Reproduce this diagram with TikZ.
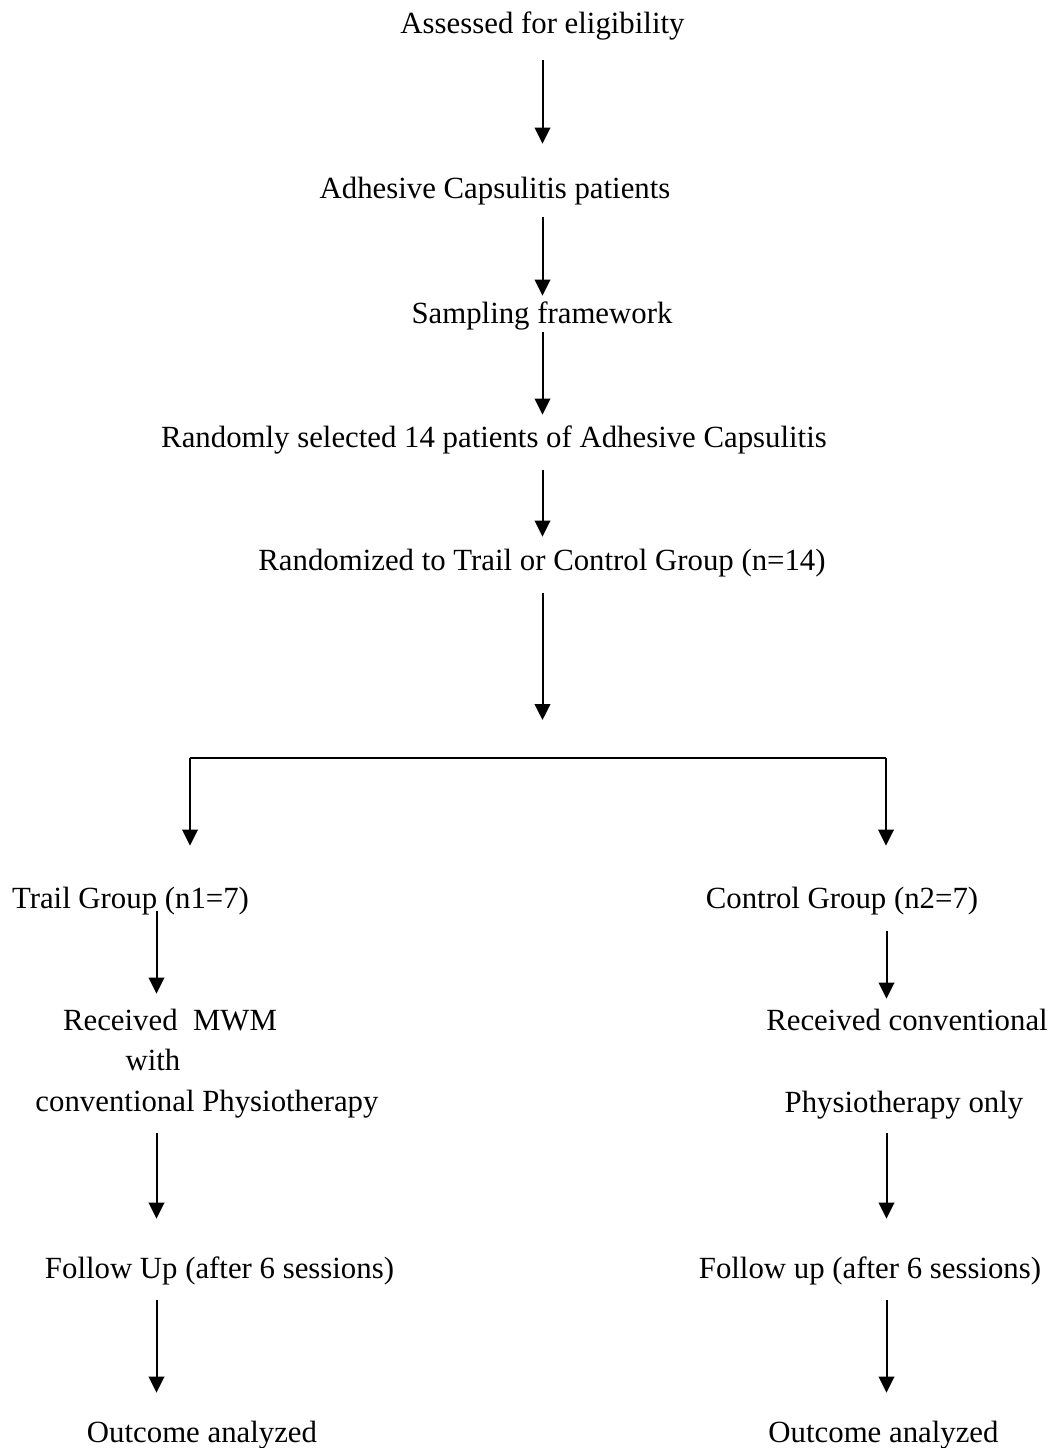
\documentclass[tikz,border=0pt]{standalone}
\usepackage{fontspec}
\setmainfont{Liberation Serif}
\usetikzlibrary{arrows.meta}

\begin{document}
\begin{tikzpicture}[x = 0.5pt, y = -0.5pt, font = \fontsize{15.4}{18}\selectfont,
        lbl/.style = {anchor = base, inner sep = 0pt, text height = 11pt, text depth = 3.5pt},
        arr/.style = {line width = 1pt, -{Triangle[length = 8pt, width = 7.8pt]}}]
            \useasboundingbox (0,0) rectangle (1058,1448);

            \coordinate (cmid) at (542.5,0);
            \coordinate (cleft) at (156.5,0);
            \coordinate (cright) at (886.5,0);

            \node[lbl] (assess) at (542.5,33) {Assessed for eligibility};
            \node[lbl] (adhes) at (495,198) {Adhesive Capsulitis patients};
            \node[lbl] (sampl) at (542,323) {Sampling framework};
            \node[lbl] (randsel) at (494,447) {Randomly selected 14 patients of Adhesive Capsulitis};
            \node[lbl] (randto) at (542,570) {Randomized to Trail or Control Group (n=14)};

            \node[lbl] (trail) at (130.5,908) {Trail Group (n1=7)};
            \node[lbl] (recvA) at (170,1030) {Received\ \ MWM};
            \node[lbl] (recvB) at (153,1070) {with};
            \node[lbl] (recvC) at (207,1111) {conventional Physiotherapy};
            \node[lbl] (followA) at (219.5,1278) {Follow Up (after 6 sessions)};
            \node[lbl] (outA) at (202,1442) {Outcome analyzed};

            \node[lbl] (control) at (842,908) {Control Group (n2=7)};
            \node[lbl] (recvD) at (907,1030) {Received conventional};
            \node[lbl] (recvE) at (904,1112) {Physiotherapy only};
            \node[lbl] (followB) at (870,1278) {Follow up (after 6 sessions)};
            \node[lbl] (outB) at (883.5,1442) {Outcome analyzed};

            \coordinate (split) at (542.5,758);
            \coordinate (lsplit) at (190,758);
            \coordinate (rsplit) at (886,758);

            \draw[arr, shorten <=10pt, shorten >=16pt] (assess.south -| cmid) -- (adhes.north -| cmid);
            \draw[arr, shorten <=6pt, shorten >=2.5pt] (adhes.south -| cmid) -- (sampl.north -| cmid);
            \draw[arr, shorten <=1pt, shorten >=5pt] (sampl.south -| cmid) -- (randsel.north -| cmid);
            \draw[arr, shorten <=8pt, shorten >=5.5pt] (randsel.south -| cmid) -- (randto.north -| cmid);
            \draw[arr, shorten <=8pt, shorten >=19pt] (randto.south -| cmid) -- (split);

            \draw[line width = 1pt] (lsplit) -- (rsplit);
            \draw[arr, shorten >=20pt] (lsplit) -- (lsplit |- trail.north);
            \draw[arr, shorten >=20pt] (rsplit) -- (rsplit |- control.north);

            \draw[arr, shorten <=-2pt, shorten >=7pt] (trail.south -| cleft) -- (recvA.north -| cleft);
            \draw[arr, shorten <=7.5pt, shorten >=18.5pt] (recvC.south -| cleft) -- (followA.north -| cleft);
            \draw[arr, shorten <=7.5pt, shorten >=13.5pt] (followA.south -| cleft) -- (outA.north -| cleft);

            \draw[arr, shorten <=8pt, shorten >=4.5pt] (control.south -| cright) -- (recvD.north -| cright);
            \draw[arr, shorten <=7pt, shorten >=18.5pt] (recvE.south -| cright) -- (followB.north -| cright);
            \draw[arr, shorten <=7.5pt, shorten >=13.5pt] (followB.south -| cright) -- (outB.north -| cright);
        \end{tikzpicture}
\end{document}
